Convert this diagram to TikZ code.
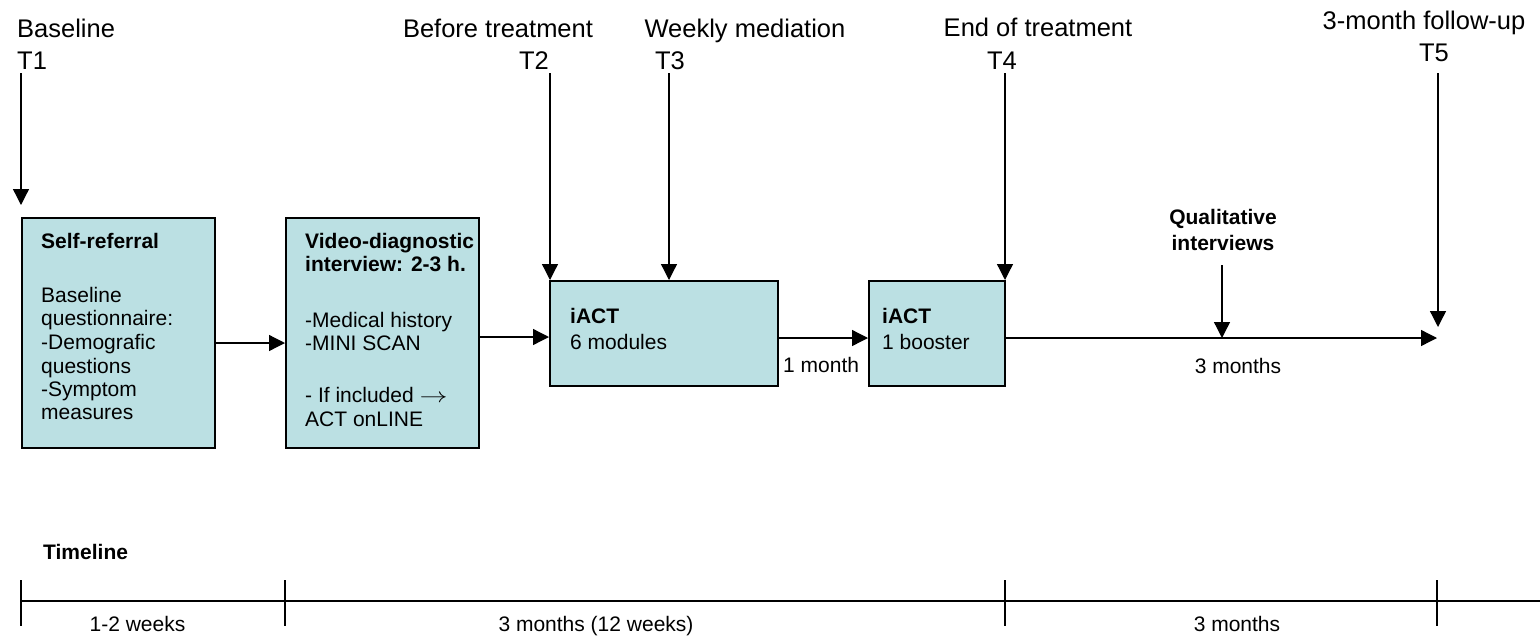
\documentclass[tikz,border=0pt]{standalone}
\usepackage{fontspec}
\setmainfont{Liberation Sans}
\usetikzlibrary{arrows.meta}
\definecolor{boxfill}{RGB}{187,224,227}
\tikzset{
  stagebox/.style={draw=black, line width=1.8pt, fill=boxfill, anchor=north west, inner sep=0pt},
  body/.style={inner sep=0pt, anchor=base west, font=\fontsize{21}{23.5}\selectfont},
  bodyc/.style={inner sep=0pt, anchor=base, font=\fontsize{21}{23.5}\selectfont},
  bodyb/.style={inner sep=0pt, anchor=base west, font=\fontsize{21}{23.5}\selectfont\bfseries},
  bodybc/.style={inner sep=0pt, anchor=base, font=\fontsize{21}{23.5}\selectfont\bfseries},
  toplbl/.style={inner sep=0pt, anchor=base, font=\fontsize{25.5}{30}\selectfont},
  toplblw/.style={inner sep=0pt, anchor=base west, font=\fontsize{25.5}{30}\selectfont},
  arr/.style={line width=1.3pt, -{Triangle[length=16pt, width=16pt]}},
  tline/.style={line width=2pt},
  tick/.style={line width=1.2pt},
}
\begin{document}
\begin{tikzpicture}[x=1pt, y=-1pt]
\useasboundingbox (0,0) rectangle (1540,638);

% top labels
\node[toplblw] (l1a) at (17,37) {Baseline};
\node[toplblw] (l1b) at (17,69) {T1};
\node[toplbl] (l2a) at (498,37) {Before treatment};
\node[toplbl] (l2b) at (534,69) {T2};
\node[toplbl] (l3a) at (745,37) {Weekly mediation};
\node[toplbl] (l3b) at (670,69) {T3};
\node[toplbl] (l4a) at (1038,36) {End of treatment};
\node[toplbl] (l4b) at (1002,69) {T4};
\node[toplbl] (l5a) at (1424,29) {3-month follow-up};
\node[toplbl] (l5b) at (1434,61) {T5};

% boxes
\node[stagebox, minimum width=193pt, minimum height=230pt] (box1) at (21,217) {};
\node[stagebox, minimum width=193pt, minimum height=230pt] (box2) at (285,217) {};
\node[stagebox, minimum width=228pt, minimum height=105pt] (box3) at (549,280) {};
\node[stagebox, minimum width=136pt, minimum height=105pt] (box4) at (868,280) {};

% box 1 text
\node[bodyb] (b1a) at (41,248) {Self-referral};
\node[body] (b1b) at (41,302) {Baseline};
\node[body] (b1c) at (41,325) {questionnaire:};
\node[body] (b1d) at (41,349) {-Demografic};
\node[body] (b1e) at (41,373) {questions};
\node[body] (b1f) at (41,396) {-Symptom};
\node[body] (b1g) at (41,419) {measures};

% box 2 text
\node[bodyb] (b2a) at (305,248) {Video-diagnostic};
\node[bodyb] (b2b) at (305,271) {interview: 2-3 h.};
\node[body] (b2c) at (305,327) {-Medical history};
\node[body] (b2d) at (305,350) {-MINI SCAN};
\node[body] (b2e) at (305,402) {- If included \scalebox{1.35}[1]{$\rightarrow$}};
\node[body] (b2f) at (305,426) {ACT onLINE};

% box 3 and 4 text
\node[bodyb] (b3a) at (570,323) {iACT};
\node[body] (b3b) at (570,349) {6 modules};
\node[bodyb] (b4a) at (882,323) {iACT};
\node[body] (b4b) at (882,349) {1 booster};

% other labels
\node[body] (m1) at (783,372) {1 month};
\node[bodyc] (m3) at (1238,373) {3 months};
\node[bodybc] (qa) at (1223,224) {Qualitative};
\node[bodybc] (qb) at (1223,250) {interviews};

% coordinates
\coordinate (t1s) at (21,73);
\coordinate (t1e) at (21,205);
\coordinate (t2s) at (550,73);
\coordinate (t3s) at (669,73);
\coordinate (t4s) at (1005,73);
\coordinate (t5s) at (1438,73);
\coordinate (t5e) at (1438,327);
\coordinate (qs) at (1222,265);
\coordinate (ya) at (0,343);
\coordinate (yb) at (0,337);
\coordinate (yc) at (0,338);
\coordinate (mainend) at (1437,338);

% arrows
\draw[arr] (t1s) -- (t1e);
\draw[arr] (t2s) -- (t2s |- box3.north);
\draw[arr] (t3s) -- (t3s |- box3.north);
\draw[arr] (t4s) -- (t4s |- box4.north);
\draw[arr] (t5s) -- (t5e);
\draw[arr] (qs) -- (qs |- yc);
\draw[arr] (box1.east |- ya) -- (box2.west |- ya);
\draw[arr] (box2.east |- yb) -- (box3.west |- yb);
\draw[arr] (box3.east |- yc) -- (box4.west |- yc);
\draw[arr] (box4.east |- yc) -- (mainend);

% timeline
\node[bodyb] (tl) at (43,559) {Timeline};
\coordinate (tl0) at (21,601);
\coordinate (tl1) at (1540,601);
\draw[tline] (tl0) -- (tl1);
\coordinate (k1a) at (21,580);   \coordinate (k1b) at (21,626);
\coordinate (k2a) at (285,580);  \coordinate (k2b) at (285,626);
\coordinate (k3a) at (1005,580); \coordinate (k3b) at (1005,626);
\coordinate (k4a) at (1437,580); \coordinate (k4b) at (1437,626);
\draw[tick] (k1a) -- (k1b);
\draw[tick] (k2a) -- (k2b);
\draw[tick] (k3a) -- (k3b);
\draw[tick] (k4a) -- (k4b);
\node[bodyc] (p1) at (137.5,631) {1-2 weeks};
\node[bodyc] (p2) at (596,631) {3 months (12 weeks)};
\node[bodyc] (p3) at (1237,631) {3 months};
\end{tikzpicture}
\end{document}
